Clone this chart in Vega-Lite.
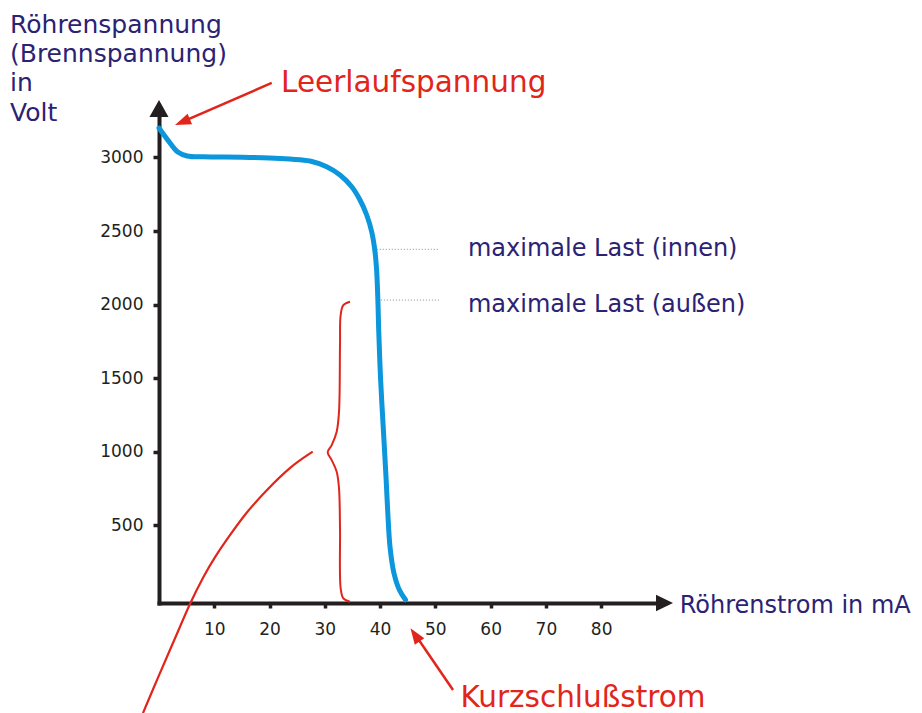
{
  "$schema": "https://vega.github.io/schema/vega-lite/v6.json",
  "width": 506,
  "height": 495,
  "autosize": {"type": "none"},
  "padding": {"left": 159, "top": 108, "right": 257, "bottom": 110},
  "background": "white",
  "config": {"view": {"stroke": null}, "font": "DejaVu Sans"},
  "datasets": {
    "kennlinie": [
      {"strom_mA": 0, "spannung_V": 3200},
      {"strom_mA": 1.6, "spannung_V": 3118},
      {"strom_mA": 3.4, "spannung_V": 3037},
      {"strom_mA": 5.1, "spannung_V": 3010},
      {"strom_mA": 8, "spannung_V": 3004},
      {"strom_mA": 15, "spannung_V": 3002},
      {"strom_mA": 20, "spannung_V": 2997},
      {"strom_mA": 23.7, "spannung_V": 2989},
      {"strom_mA": 27.32, "spannung_V": 2976},
      {"strom_mA": 30.34, "spannung_V": 2937},
      {"strom_mA": 32.75, "spannung_V": 2881},
      {"strom_mA": 34.87, "spannung_V": 2801},
      {"strom_mA": 36.37, "spannung_V": 2711},
      {"strom_mA": 37.58, "spannung_V": 2609},
      {"strom_mA": 38.48, "spannung_V": 2495},
      {"strom_mA": 39.08, "spannung_V": 2360},
      {"strom_mA": 39.39, "spannung_V": 2224},
      {"strom_mA": 39.6, "spannung_V": 2031},
      {"strom_mA": 39.75, "spannung_V": 1828},
      {"strom_mA": 40.1, "spannung_V": 1488},
      {"strom_mA": 40.6, "spannung_V": 1148},
      {"strom_mA": 41.1, "spannung_V": 809},
      {"strom_mA": 41.4, "spannung_V": 584},
      {"strom_mA": 41.8, "spannung_V": 353},
      {"strom_mA": 42.5, "spannung_V": 177},
      {"strom_mA": 43.5, "spannung_V": 61},
      {"strom_mA": 44.6, "spannung_V": -5}
    ],
    "parabel": [
      {"strom_mA": -2.9, "spannung_V": -775},
      {"strom_mA": -0.13, "spannung_V": -528},
      {"strom_mA": 1.99, "spannung_V": -346},
      {"strom_mA": 3.8, "spannung_V": -188},
      {"strom_mA": 5.61, "spannung_V": -29},
      {"strom_mA": 8.02, "spannung_V": 152},
      {"strom_mA": 10.13, "spannung_V": 288},
      {"strom_mA": 12.85, "spannung_V": 435},
      {"strom_mA": 15.87, "spannung_V": 593},
      {"strom_mA": 19.49, "spannung_V": 741},
      {"strom_mA": 23.7, "spannung_V": 899},
      {"strom_mA": 27.81, "spannung_V": 1001}
    ],
    "klammer": [
      {"reihenfolge": 1, "strom_mA": 34.56, "spannung_V": 2020},
      {"reihenfolge": 2, "strom_mA": 33.35, "spannung_V": 1997},
      {"reihenfolge": 3, "strom_mA": 32.87, "spannung_V": 1930},
      {"reihenfolge": 4, "strom_mA": 32.75, "spannung_V": 1726},
      {"reihenfolge": 5, "strom_mA": 32.57, "spannung_V": 1273},
      {"reihenfolge": 6, "strom_mA": 32.15, "spannung_V": 1137},
      {"reihenfolge": 7, "strom_mA": 31.25, "spannung_V": 1046},
      {"reihenfolge": 8, "strom_mA": 30.52, "spannung_V": 997},
      {"reihenfolge": 9, "strom_mA": 31.25, "spannung_V": 944},
      {"reihenfolge": 10, "strom_mA": 32.15, "spannung_V": 865},
      {"reihenfolge": 11, "strom_mA": 32.57, "spannung_V": 752},
      {"reihenfolge": 12, "strom_mA": 32.75, "spannung_V": 480},
      {"reihenfolge": 13, "strom_mA": 32.87, "spannung_V": 73},
      {"reihenfolge": 14, "strom_mA": 33.35, "spannung_V": 5},
      {"reihenfolge": 15, "strom_mA": 34.56, "spannung_V": -18}
    ],
    "hilfslinien": [
      {"strom_mA": 39.4, "strom_bis": 50.8, "spannung_V": 2376},
      {"strom_mA": 39.6, "strom_bis": 50.8, "spannung_V": 2031}
    ],
    "pfeil_leerlauf": [
      {"strom_mA": 20.4, "spannung_V": 3506},
      {"strom_mA": 4.2, "spannung_V": 3242}
    ],
    "spitze_leerlauf": [{"strom_mA": 2.9, "spannung_V": 3220}],
    "pfeil_kurz": [
      {"strom_mA": 53.2, "spannung_V": -618},
      {"strom_mA": 46.4, "spannung_V": -244}
    ],
    "spitze_kurz": [{"strom_mA": 45.5, "spannung_V": -199}],
    "achse_y_spitze": [{"strom_mA": 0, "spannung_V": 3390}],
    "achse_x_spitze": [{"strom_mA": 93.0, "spannung_V": -27}],
    "titel": [{"strom_mA": -26.96, "spannung_V": 3845, "text": "Röhrenspannung\n(Brennspannung)\nin\nVolt"}],
    "rote_texte": [
      {"strom_mA": 22.07, "spannung_V": 3447, "text": "Leerlaufspannung"},
      {"strom_mA": 54.53, "spannung_V": -736, "text": "Kurzschlußstrom"}
    ],
    "blaue_texte": [
      {"strom_mA": 55.9, "spannung_V": 2330, "text": "maximale Last (innen)"},
      {"strom_mA": 55.9, "spannung_V": 1952, "text": "maximale Last (außen)"},
      {"strom_mA": 94.2, "spannung_V": -95, "text": "Röhrenstrom in mA"}
    ]
  },
  "encoding": {
    "x": {
      "field": "strom_mA",
      "type": "quantitative",
      "scale": {"domain": [0, 91.55], "nice": false, "zero": false},
      "axis": {
        "values": [10, 20, 30, 40, 50, 60, 70, 80],
        "format": "d",
        "title": null,
        "grid": false,
        "domainColor": "#231f20",
        "domainWidth": 4,
        "domainCap": "square",
        "tickColor": "#231f20",
        "tickWidth": 3.5,
        "tickSize": 5,
        "labelFont": "DejaVu Sans",
        "labelFontSize": 17,
        "labelColor": "#231f20",
        "labelPadding": 13,
        "labelFlush": false
      }
    },
    "y": {
      "field": "spannung_V",
      "type": "quantitative",
      "scale": {"domain": [-27, 3336], "nice": false, "zero": false},
      "axis": {
        "values": [500, 1000, 1500, 2000, 2500, 3000],
        "format": "d",
        "title": null,
        "grid": false,
        "domainColor": "#231f20",
        "domainWidth": 4,
        "domainCap": "square",
        "tickColor": "#231f20",
        "tickWidth": 3.5,
        "tickSize": 6,
        "labelFont": "DejaVu Sans",
        "labelFontSize": 17,
        "labelColor": "#231f20",
        "labelPadding": 10,
        "labelFlush": false
      }
    }
  },
  "layer": [
    {
      "data": {"name": "hilfslinien"},
      "mark": {"type": "rule", "color": "#8a8a8a", "strokeWidth": 1, "strokeDash": [1, 2], "clip": false},
      "encoding": {"x2": {"field": "strom_bis"}}
    },
    {
      "data": {"name": "parabel"},
      "mark": {"type": "line", "color": "#e1251b", "strokeWidth": 2.2, "interpolate": "basis", "clip": false}
    },
    {
      "data": {"name": "klammer"},
      "mark": {"type": "line", "color": "#e1251b", "strokeWidth": 2, "interpolate": "catmull-rom", "clip": false},
      "encoding": {"order": {"field": "reihenfolge", "type": "quantitative"}}
    },
    {
      "data": {"name": "kennlinie"},
      "mark": {"type": "line", "color": "#0c96db", "strokeWidth": 5, "strokeCap": "round", "interpolate": "catmull-rom", "clip": false}
    },
    {
      "data": {"name": "pfeil_leerlauf"},
      "mark": {"type": "line", "color": "#e1251b", "strokeWidth": 2.5, "clip": false}
    },
    {
      "data": {"name": "spitze_leerlauf"},
      "mark": {"type": "point", "shape": "M0,0L-0.36,1L0.36,1Z", "size": 1024, "angle": 247.6, "filled": true, "opacity": 1, "color": "#e1251b", "clip": false}
    },
    {
      "data": {"name": "pfeil_kurz"},
      "mark": {"type": "line", "color": "#e1251b", "strokeWidth": 2.5, "clip": false}
    },
    {
      "data": {"name": "spitze_kurz"},
      "mark": {"type": "point", "shape": "M0,0L-0.36,1L0.36,1Z", "size": 1024, "angle": 325.5, "filled": true, "opacity": 1, "color": "#e1251b", "clip": false}
    },
    {
      "data": {"name": "achse_y_spitze"},
      "mark": {"type": "point", "shape": "M0,0L-0.56,1L0.56,1Z", "size": 1156, "angle": 0, "filled": true, "opacity": 1, "color": "#231f20", "clip": false}
    },
    {
      "data": {"name": "achse_x_spitze"},
      "mark": {"type": "point", "shape": "M0,0L-0.48,1L0.48,1Z", "size": 1156, "angle": 90, "filled": true, "opacity": 1, "color": "#231f20", "clip": false}
    },
    {
      "data": {"name": "titel"},
      "mark": {"type": "text", "align": "left", "baseline": "alphabetic", "font": "DejaVu Sans", "fontSize": 25, "lineHeight": 29.2, "lineBreak": "\n", "color": "#2b2274", "clip": false},
      "encoding": {"text": {"field": "text"}}
    },
    {
      "data": {"name": "rote_texte"},
      "mark": {"type": "text", "align": "left", "baseline": "alphabetic", "font": "DejaVu Sans", "fontSize": 29.5, "color": "#e1251b", "clip": false},
      "encoding": {"text": {"field": "text"}}
    },
    {
      "data": {"name": "blaue_texte"},
      "mark": {"type": "text", "align": "left", "baseline": "alphabetic", "font": "DejaVu Sans", "fontSize": 24, "color": "#2b2274", "clip": false},
      "encoding": {"text": {"field": "text"}}
    }
  ]
}
